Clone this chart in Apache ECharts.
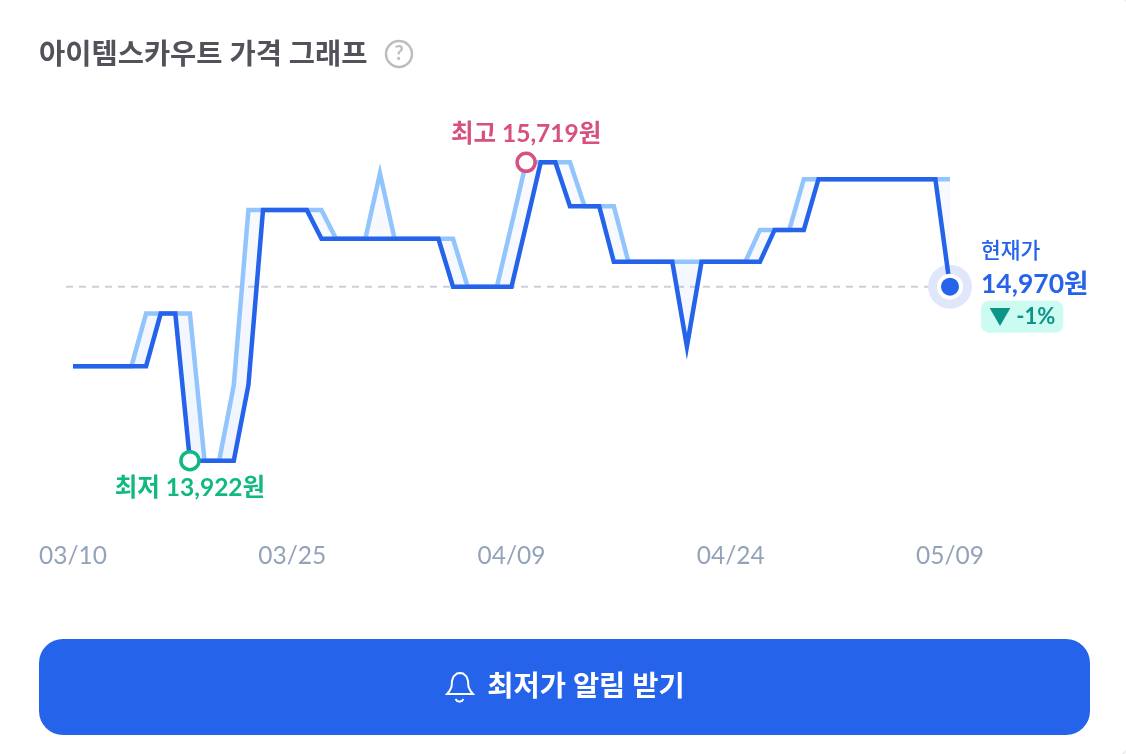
<!DOCTYPE html>
<html>
<head>
<meta charset="utf-8">
<style>
html, body { margin: 0; padding: 0; background: #fff; }
#main { width: 1126px; height: 754px; }
</style>
<script src="https://cdn.jsdelivr.net/npm/echarts@6/dist/echarts.min.js"></script>
</head>
<body>
<div id="main"></div>
<script>
const dates = [
  '03/10','03/11','03/12','03/13','03/14','03/15','03/16','03/17','03/18','03/19','03/20',
  '03/21','03/22','03/23','03/24','03/25','03/26','03/27','03/28','03/29','03/30','03/31',
  '04/01','04/02','04/03','04/04','04/05','04/06','04/07','04/08','04/09','04/10','04/11',
  '04/12','04/13','04/14','04/15','04/16','04/17','04/18','04/19','04/20','04/21','04/22',
  '04/23','04/24','04/25','04/26','04/27','04/28','04/29','04/30','05/01','05/02','05/03',
  '05/04','05/05','05/06','05/07','05/08','05/09'
];

// 진한 선
const scoutPrices = [
  14491,14491,14491,14491,14491,14491,14808,14808,13922,13922,13922,
  13922,14377,15431,15431,15431,15431,15258,15258,15258,15258,15258,
  15258,15258,15258,15258,14970,14970,14970,14970,14970,15342,15719,
  15719,15455,15455,15455,15120,15120,15120,15120,15120,14610,15120,
  15120,15120,15120,15120,15312,15312,15312,15617,15617,15617,15617,
  15617,15617,15617,15617,15617,14970
];

// 연한 선
const upperPrices = [
  14491,14491,14491,14491,14491,14808,14808,14808,14808,13922,13922,
  14377,15431,15431,15431,15431,15431,15431,15258,15258,15258,15653,
  15258,15258,15258,15258,15258,14970,14970,14970,15342,15719,15719,
  15719,15719,15455,15455,15455,15120,15120,15120,15120,15120,15120,
  15120,15120,15120,15312,15312,15312,15617,15617,15617,15617,15617,
  15617,15617,15617,15617,15617,15617
];

const lowPoint = ['03/18', 13922];
const highPoint = ['04/10', 15719];
const nowPoint = ['05/09', 14970];

const FONT = "Lato, 'Noto Sans CJK KR', sans-serif";
const BLUE = '#2563eb';

const chart = echarts.init(document.getElementById('main'));

const gap = upperPrices.map((v, i) => v - scoutPrices[i]);

const option = {
  animation: false,
  textStyle: { fontFamily: FONT },
  grid: { left: 73, right: 176, top: 162.3, height: 298.4 },
  xAxis: {
    type: 'category',
    data: dates,
    boundaryGap: false,
    axisLine: { show: false },
    axisTick: { show: false },
    axisLabel: {
      interval: 14,
      showMinLabel: true,
      showMaxLabel: true,
      margin: 83,
      fontSize: 24.5,
      color: '#94a3b8',
      fontFamily: FONT
    }
  },
  yAxis: { type: 'value', min: 13922, max: 15719, show: false },
  series: [
    {
      type: 'line', stack: 'band', data: scoutPrices, symbol: 'none', clip: false, z: 5,
      lineStyle: { color: BLUE, width: 4.5, join: 'miter', miterLimit: 20 }
    },
    {
      type: 'line', stack: 'band', data: gap, symbol: 'none', clip: false, z: 2,
      lineStyle: { width: 0 },
      areaStyle: {
        color: new echarts.graphic.LinearGradient(0, 0, 0, 1, [
          { offset: 0, color: 'rgba(37,99,235,0.045)' },
          { offset: 1, color: 'rgba(37,99,235,0.1)' }
        ])
      }
    },
    {
      type: 'line', data: upperPrices, symbol: 'none', clip: false, z: 3,
      lineStyle: { color: '#93c5fd', width: 4.5, join: 'miter', miterLimit: 20 }
    },
    {
      type: 'scatter', data: [nowPoint], symbolSize: 44, clip: false, z: 4, silent: true,
      itemStyle: { color: '#e0e7fb', opacity: 1 }
    },
    {
      type: 'scatter', data: [nowPoint], symbolSize: 22, clip: false, z: 6, silent: true,
      itemStyle: { color: BLUE, borderColor: '#fff', borderWidth: 4, opacity: 1 },
      label: {
        show: true,
        position: 'right',
        distance: 18,
        offset: [0, -3],
        align: 'left',
        formatter: '{a|현재가}\n{b|14,970원}\n{c|▼ -1%}',
        rich: {
          a: { fontFamily: FONT, fontSize: 21.5, fontWeight: 500, color: BLUE, lineHeight: 33 },
          b: { fontFamily: FONT, fontSize: 26.5, fontWeight: 700, color: BLUE, lineHeight: 33 },
          c: {
            fontFamily: FONT, fontSize: 22, fontWeight: 700, color: '#0d9488',
            backgroundColor: '#ccfbf1', borderRadius: 8, padding: [0, 8], height: 32, lineHeight: 32
          }
        }
      }
    },
    {
      type: 'scatter', data: [lowPoint], symbolSize: 18, clip: false, z: 7, silent: true,
      itemStyle: { color: '#fff', borderColor: '#10b981', borderWidth: 3.5, opacity: 1 },
      label: {
        show: true, position: 'bottom', distance: 4, formatter: '최저 13,922원',
        fontFamily: FONT, fontSize: 24.5, fontWeight: 700, color: '#10b981'
      }
    },
    {
      type: 'scatter', data: [highPoint], symbolSize: 18, clip: false, z: 7, silent: true,
      itemStyle: { color: '#fff', borderColor: '#d6517f', borderWidth: 3.5, opacity: 1 },
      label: {
        show: true, position: 'top', distance: 5, formatter: '최고 15,719원',
        fontFamily: FONT, fontSize: 24.5, fontWeight: 700, color: '#d6517f'
      }
    }
  ]
};
chart.setOption(option);

// 점선, 제목, 버튼은 그래프 위에 따로 그린다
const [nowX, nowY] = chart.convertToPixel({ seriesIndex: 0 }, nowPoint);
chart.setOption({
  graphic: [
    {
      type: 'rect', shape: { x: -10, y: -4, width: 1138, height: 760, r: 12 },
      style: { fill: 'none', stroke: '#e8e8e8', lineWidth: 1.5 }
    },
    {
      type: 'line', z: 1,
      shape: { x1: 66, y1: nowY, x2: nowX, y2: nowY },
      style: { stroke: '#cbd0d8', lineWidth: 2, lineDash: [7, 6] }
    },
    {
      type: 'text', x: 39, y: 54.5,
      style: { text: '아이템스카우트 가격 그래프', fontFamily: FONT, fontSize: 28.5, fontWeight: 700, fill: '#52525b', verticalAlign: 'middle' }
    },
    {
      type: 'circle', shape: { cx: 399, cy: 54, r: 13 },
      style: { fill: 'none', stroke: '#bdbdbd', lineWidth: 2.5 }
    },
    {
      type: 'text', x: 399, y: 54,
      style: { text: '?', fontFamily: FONT, fontSize: 20, fontWeight: 700, fill: '#bdbdbd', align: 'center', verticalAlign: 'middle' }
    },
    {
      type: 'rect', shape: { x: 39, y: 639, width: 1051, height: 96, r: 24 },
      style: { fill: BLUE }
    },
    {
      type: 'text', x: 586, y: 687,
      style: { text: '최저가 알림 받기', fontFamily: FONT, fontSize: 28.5, fontWeight: 700, fill: '#fff', align: 'center', verticalAlign: 'middle' }
    },
    {
      type: 'polygon', z: 3,
      shape: { points: [[447,694],[449.5,691],[451.5,687],[452,681],[453.5,676.5],[457,673.5],[460,673],[463,673.5],[466.5,676.5],[468,681],[468.5,687],[470.5,691],[473,694]] },
      style: { fill: 'none', stroke: '#fff', lineWidth: 2 }
    },
    {
      type: 'polyline', z: 3,
      shape: { points: [[455.5,699],[457,701],[459.5,701.8],[462,701],[463.5,699]] },
      style: { fill: 'none', stroke: '#fff', lineWidth: 2 }
    }
  ]
});
</script>
</body>
</html>
